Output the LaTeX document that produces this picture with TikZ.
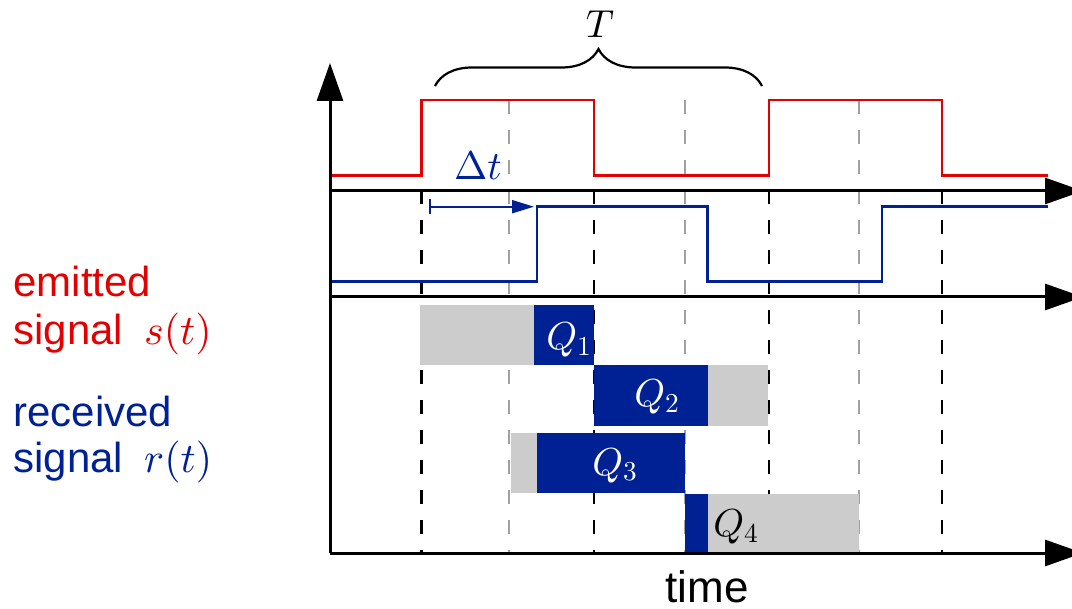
\documentclass[tikz,border=0pt]{standalone}
\usepackage{fontspec}
\setsansfont{Liberation Sans}
\DeclareFontShape{OML}{cmm}{m}{it}{<-8>cmmi7 <8->cmmi10}{}
\DeclareFontShape{OT1}{cmr}{m}{n}{<-8>cmr7 <8->cmr10}{}
\DeclareFontShape{OMS}{cmsy}{m}{n}{<-8>cmsy7 <8->cmsy10}{}
\usetikzlibrary{arrows.meta,decorations.pathreplacing}
\definecolor{sigred}{RGB}{226,0,0}
\definecolor{sigblue}{RGB}{0,33,148}
\definecolor{qgray}{RGB}{204,204,204}
\definecolor{dgray}{RGB}{160,160,160}
\tikzset{
  axis/.style={line width=1.5pt,-{Triangle[length=19pt,width=13pt]}},
  blackdash/.style={line width=1.3pt,dash pattern=on 7pt off 8pt,black},
  graydash/.style={line width=1.3pt,dash pattern=on 7pt off 8pt,dgray},
  redsig/.style={line width=1.3pt,sigred,line join=miter},
  bluesig/.style={line width=1.2pt,sigblue,line join=miter},
  lbl/.style={inner sep=0pt,font=\sffamily\fontsize{21}{24}\selectfont},
  qlbl/.style={inner sep=0pt,anchor=base,font=\fontsize{19.5}{23}\selectfont},
}
\begin{document}
\begin{tikzpicture}[x=0.5pt,y=-0.5pt]
\useasboundingbox (0,0) rectangle (1072,609);
% dashed guide lines
\foreach \xx in {421.7,594,769,942} \draw[blackdash] (\xx,100) -- (\xx,552);
\foreach \xx in {509,685,859} \draw[graydash] (\xx,100) -- (\xx,552);
% Q boxes
\fill[qgray] (420,305) rectangle (534,365);
\fill[sigblue] (534,305) rectangle (594,365);
\fill[sigblue] (594,365) rectangle (707.5,426);
\fill[qgray] (707.5,365) rectangle (768,426);
\fill[qgray] (511,433) rectangle (536.5,493);
\fill[sigblue] (536.5,433) rectangle (685,493);
\fill[sigblue] (685,494) rectangle (707.5,553);
\fill[qgray] (707.5,494) rectangle (859,553);
\node[qlbl,text=white] (q1) at (569,350) {$Q_1$};
\node[qlbl,text=white] (q2) at (657,407) {$Q_2$};
\node[qlbl,text=white] (q3) at (615,475) {$Q_3$};
\node[qlbl,text=black] (q4) at (736,537) {$Q_4$};
% signals
\draw[redsig] (330,175.7) -- (421.7,175.7) -- (421.7,100) -- (594,100) -- (594,175.7)
  -- (769,175.7) -- (769,100) -- (942,100) -- (942,175.7) -- (1048,175.7);
\draw[bluesig] (330,281.7) -- (536.7,281.7) -- (536.7,206.7) -- (707.3,206.7) -- (707.3,281.7)
  -- (881.7,281.7) -- (881.7,206.7) -- (1048,206.7);
% axes
\coordinate (o) at (330,553);
\coordinate (ytop) at (330,63);
\coordinate (a1l) at (330,191);
\coordinate (a1r) at (1083,191);
\coordinate (a2l) at (330,297);
\coordinate (a2r) at (1083,297);
\coordinate (a3r) at (1083,553);
\draw[axis] (o) -- (ytop);
\draw[axis] (a1l) -- (a1r);
\draw[axis] (a2l) -- (a2r);
\draw[axis] (o) -- (a3r);
% delta t
\coordinate (dtA) at (429,206.7);
\coordinate (dtB) at (534,206.7);
\draw[sigblue,line width=1pt,{Bar[width=7.5pt]}-{Triangle[length=11pt,width=6.5pt]}] (dtA) -- (dtB);
\node[inner sep=0pt,anchor=base,text=sigblue,font=\fontsize{20}{24}\selectfont] (dt) at (478,180) {$\Delta t$};
% brace
\coordinate (brL) at (435,86);
\coordinate (brR) at (762,86);
\draw[line width=1.1pt,decorate,decoration={brace,amplitude=18.5pt}] (brL) -- (brR);
\node[inner sep=0pt,anchor=base,font=\fontsize{19.5}{23}\selectfont] (T) at (600,38) {$T$};
% labels
\node[lbl,anchor=base west,text=sigred] (em1) at (13,297) {emitted};
\node[lbl,anchor=base west,text=sigred] (em2) at (13,345) {signal\hspace{0.5em}$s(t)$};
\node[lbl,anchor=base west,text=sigblue] (re1) at (13,427) {received};
\node[lbl,anchor=base west,text=sigblue] (re2) at (13,473) {signal\hspace{0.5em}$r(t)$};
\node[inner sep=0pt,anchor=base,font=\sffamily\fontsize{22}{26}\selectfont] (time) at (707,602) {time};
\end{tikzpicture}
\end{document}
